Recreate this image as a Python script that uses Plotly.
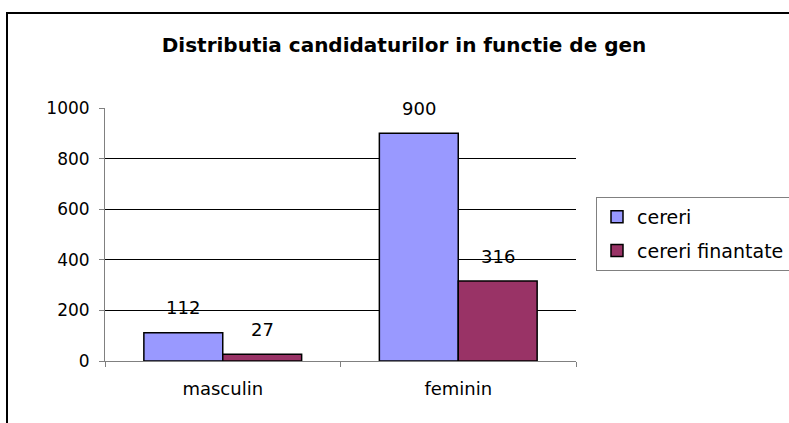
import plotly.graph_objects as go

categories = ["masculin", "feminin"]
series_names = ["cereri", "cereri finantate"]
cereri = [112, 900]
cereri_finantate = [27, 316]
y_ticks = [0, 200, 400, 600, 800, 1000]
title_text = "Distributia candidaturilor in functie de gen"

FONT = "DejaVu Sans, Arial, sans-serif"
colors = ["#9999FF", "#993366"]
values = [cereri, cereri_finantate]

fig = go.Figure()
for i, (name, vals) in enumerate(zip(series_names, values)):
    fig.add_trace(go.Bar(
        x=categories, y=vals, name=name, legendgroup=name,
        marker=dict(color=colors[i], line=dict(color="black", width=1.5)),
    ))

bargap = 0.33
bw = (1 - bargap) / 2
annotations = []
for i, vals in enumerate(values):
    off = (i - 0.5) * bw
    for ci, v in enumerate(vals):
        annotations.append(dict(
            x=ci + off, y=v, xref="x", yref="y", text=str(v), showarrow=False,
            yshift=25, font=dict(family=FONT, size=18, color="black"),
        ))

fig.update_layout(
    width=789, height=423,
    margin=dict(l=105, r=213, t=108, b=62, autoexpand=False),
    paper_bgcolor="white", plot_bgcolor="white",
    barmode="group", bargap=bargap, bargroupgap=0,
    font=dict(family=FONT, size=17, color="black"),
    title=dict(text="<b>" + title_text + "</b>", x=404 / 789, xref="container",
               xanchor="center", y=1 - 45 / 423, yanchor="middle",
               font=dict(family=FONT, size=20, color="black")),
    legend=dict(x=(596 - 105) / 471, y=(361 - 197) / 253, xanchor="left", yanchor="top",
                bordercolor="#808080", borderwidth=1, bgcolor="white",
                font=dict(family=FONT, size=19), tracegroupgap=6,
                traceorder="grouped", itemwidth=30),
    annotations=annotations,
    shapes=[dict(type="rect", xref="paper", yref="paper",
                 x0=(7 - 105) / 471, x1=(800 - 105) / 471,
                 y0=(361 - 440) / 253, y1=(361 - 13) / 253,
                 line=dict(color="black", width=2), fillcolor="rgba(0,0,0,0)",
                 layer="below")],
)
fig.update_yaxes(range=[0, 1000], tickvals=y_ticks, showgrid=True, gridcolor="black",
                 gridwidth=1, showline=True, linecolor="#808080", linewidth=1,
                 ticks="outside", ticklen=5, tickcolor="#808080", zeroline=False,
                 ticklabelstandoff=6, tickfont=dict(size=17))
fig.update_xaxes(showgrid=False, showline=True, linecolor="#808080", linewidth=1,
                 ticks="outside", ticklen=5, tickcolor="#808080", tickson="boundaries",
                 ticklabelstandoff=11, tickfont=dict(size=18))

fig.write_html("out.html", config={"displayModeBar": False},
               post_script="document.body.style.margin='0';")
